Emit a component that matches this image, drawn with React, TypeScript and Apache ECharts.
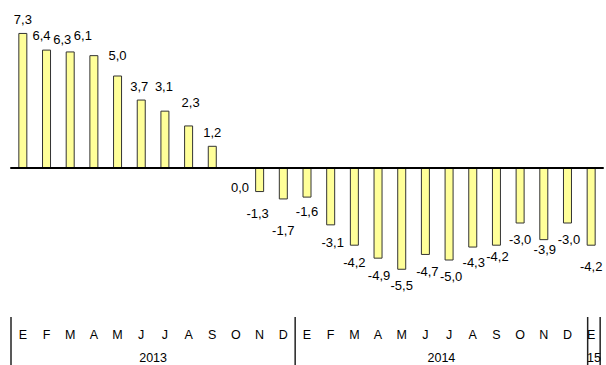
import React, { useEffect, useRef } from 'react';
import * as echarts from 'echarts';

// Month initials (Spanish) for each bar, Jan 2013 .. Jan 2015
const months = ['E', 'F', 'M', 'A', 'M', 'J', 'J', 'A', 'S', 'O', 'N', 'D', 'E', 'F', 'M', 'A', 'M', 'J', 'J', 'A', 'S', 'O', 'N', 'D', 'E'];
// Year row of the table under the chart and how many months each spans
const years = ['2013', '2014', '15'];
const monthsPerYear = [12, 12, 1];
// Year-on-year rate (%)
const values = [7.3, 6.4, 6.3, 6.1, 5.0, 3.7, 3.1, 2.3, 1.2, 0.0, -1.3, -1.7, -1.6, -3.1, -4.2, -4.9, -5.5, -4.7, -5.0, -4.3, -4.2, -3.0, -3.9, -3.0, -4.2];

// Layout only: small nudges (px) reproducing the hand-placed value labels
const labelNudgeX = [0, -5, -8, -11, 0, -2, -1, 2, 0, 4, -2, 0, 0, 2, 0, 1, 0, 2, 2, 1, 1, 0, 1, 1.5, 0];
const labelNudgeY = [-2, -3, 0, -8, -9, -2, -13, -11, -2, 7, 10, 20, 2, 6, 5, 5, 4, 5, 4, 3, -1, 4, -2, 4, 9];

const FONT = 'Arial, "Liberation Sans", sans-serif';
const fmt = (v: number) => v.toFixed(1).replace('.', ',');

export default function App() {
  const ref = useRef<HTMLDivElement>(null);

  useEffect(() => {
    const chart = echarts.init(ref.current!, null, { renderer: 'svg' });
    const keys = months.map((m, i) => `${m}-${i}`);

    chart.setOption({
      animation: false,
      grid: { left: 11, right: 3, top: 20, height: 296 },
      xAxis: [
        {
          type: 'category',
          data: keys,
          position: 'bottom',
          axisLine: { onZero: true, lineStyle: { color: '#000', width: 2 } },
          axisTick: { show: false },
          axisLabel: { show: false },
          z: 5,
        },
        {
          type: 'category',
          data: keys,
          position: 'bottom',
          axisLine: { show: false, onZero: false },
          axisTick: { show: false },
          axisLabel: {
            interval: 0,
            margin: 12,
            fontSize: 12.5,
            color: '#000',
            fontFamily: FONT,
            formatter: (_v: string, i: number) => months[i],
          },
        },
      ],
      yAxis: { type: 'value', min: -8, max: 8, show: false },
      series: [
        {
          type: 'bar',
          xAxisIndex: 0,
          barWidth: 9,
          itemStyle: { color: '#FFFF99', borderColor: '#333333', borderWidth: 1 },
          label: {
            show: true,
            fontSize: 13,
            color: '#000',
            fontFamily: FONT,
            formatter: (p: any) => fmt(p.value),
          },
          data: values.map((v, i) => ({
            value: v,
            label: { position: v > 0 ? 'top' : 'bottom', offset: [labelNudgeX[i], labelNudgeY[i]] },
          })),
        },
      ],
    });

    const cx = (i: number) => chart.convertToPixel({ xAxisIndex: 0 }, keys[i]) as number;
    const band = cx(1) - cx(0);
    // cell boundaries of the year table
    const bounds: number[] = [];
    let start = 0;
    years.forEach((_y, g) => {
      const n = monthsPerYear[g];
      bounds.push(cx(start) - (n > 1 ? band / 2 : 3.5));
      start += n;
    });
    const lastN = monthsPerYear[monthsPerYear.length - 1];
    bounds.push(cx(start - 1) + (lastN > 1 ? band / 2 : 9));

    const lineStyle = { stroke: '#222', lineWidth: 1.5 };
    const graphics: any[] = bounds.map((x) => ({
      type: 'line',
      shape: { x1: x, y1: 317, x2: x, y2: 365 },
      style: lineStyle,
    }));
    years.forEach((y, g) => {
      graphics.push({
        type: 'text',
        x: (bounds[g] + bounds[g + 1]) / 2,
        y: 358,
        style: { text: y, fill: '#000', font: `12.5px ${FONT}`, textAlign: 'center', textVerticalAlign: 'middle' },
      });
    });
    chart.setOption({ graphic: graphics });

    return () => chart.dispose();
  }, []);

  return <div ref={ref} style={{ position: 'absolute', left: 0, top: 0, width: 606, height: 365 }} />;
}
